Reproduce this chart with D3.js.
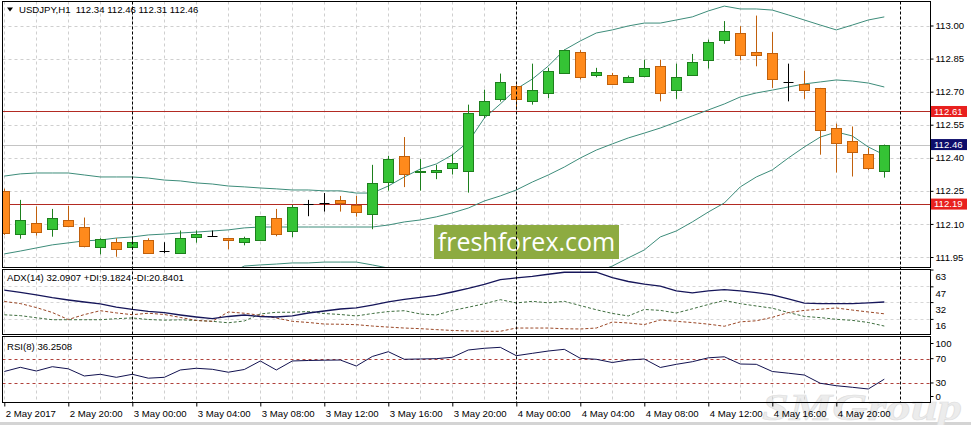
<!DOCTYPE html>
<html><head><meta charset="utf-8">
<script src="https://cdn.jsdelivr.net/npm/d3@7"></script>
<style>body{margin:0;background:#fff}svg{display:block}</style>
</head><body><svg id="c" width="971" height="425"></svg>
<script>
const times = ["2 May 16:00","2 May 17:00","2 May 18:00","2 May 19:00","2 May 20:00","2 May 21:00","2 May 22:00","2 May 23:00",
"3 May 00:00","3 May 01:00","3 May 02:00","3 May 03:00","3 May 04:00","3 May 05:00","3 May 06:00","3 May 07:00",
"3 May 08:00","3 May 09:00","3 May 10:00","3 May 11:00","3 May 12:00","3 May 13:00","3 May 14:00","3 May 15:00",
"3 May 16:00","3 May 17:00","3 May 18:00","3 May 19:00","3 May 20:00","3 May 21:00","3 May 22:00","3 May 23:00",
"4 May 00:00","4 May 01:00","4 May 02:00","4 May 03:00","4 May 04:00","4 May 05:00","4 May 06:00","4 May 07:00",
"4 May 08:00","4 May 09:00","4 May 10:00","4 May 11:00","4 May 12:00","4 May 13:00","4 May 14:00","4 May 15:00",
"4 May 16:00","4 May 17:00","4 May 18:00","4 May 19:00","4 May 20:00","4 May 21:00","4 May 22:00","4 May 23:00"];
const nextSlot = "5 May 00:00";
const open = [112.25,112.053,112.105,112.076,112.118,112.085,111.994,112.017,111.994,112.027,111.977,111.967,112.042,112.044,112.035,112.017,112.026,112.126,112.067,112.190,112.194,112.209,112.186,112.144,112.292,112.409,112.335,112.334,112.353,112.342,112.592,112.667,112.727,112.656,112.694,112.785,112.879,112.776,112.776,112.744,112.773,112.818,112.706,112.776,112.842,112.936,112.967,112.879,112.876,112.744,112.736,112.717,112.535,112.474,112.418,112.34];
const high = [112.26,112.209,112.179,112.168,112.182,112.129,112.035,112.035,112.042,112.035,112.017,112.070,112.070,112.070,112.035,112.042,112.135,112.168,112.186,112.209,112.240,112.227,112.227,112.368,112.409,112.494,112.394,112.368,112.418,112.641,112.709,112.782,112.732,112.827,112.808,112.891,112.888,112.808,112.785,112.773,112.845,112.845,112.827,112.871,112.936,113.020,112.997,113.045,112.970,112.827,112.795,112.717,112.555,112.542,112.444,112.46];
const low = [112.05,112.033,112.047,112.042,112.085,111.994,111.962,111.951,111.982,111.967,111.967,111.967,112.015,112.044,111.985,112.003,112.026,112.044,112.040,112.135,112.156,112.156,112.133,112.076,112.251,112.267,112.251,112.303,112.324,112.242,112.580,112.655,112.618,112.641,112.671,112.785,112.755,112.765,112.735,112.740,112.765,112.656,112.667,112.776,112.805,112.917,112.842,112.815,112.717,112.656,112.667,112.414,112.333,112.315,112.345,112.31];
const close = [112.06,112.118,112.065,112.127,112.092,112.001,112.030,111.985,112.017,111.967,111.977,112.035,112.053,112.044,112.026,112.035,112.135,112.053,112.176,112.190,112.194,112.194,112.156,112.285,112.394,112.327,112.342,112.344,112.376,112.603,112.658,112.744,112.667,112.709,112.795,112.888,112.765,112.788,112.735,112.767,112.808,112.694,112.767,112.835,112.926,112.974,112.865,112.868,112.758,112.744,112.709,112.527,112.467,112.426,112.353,112.46];
const bbUpper = [112.317,112.327,112.331,112.331,112.331,112.322,112.313,112.313,112.313,112.308,112.299,112.295,112.286,112.281,112.272,112.268,112.263,112.259,112.254,112.254,112.250,112.250,112.240,112.240,112.272,112.313,112.349,112.372,112.413,112.472,112.580,112.644,112.712,112.757,112.816,112.889,112.930,112.966,112.980,112.998,113.011,113.011,113.025,113.039,113.066,113.088,113.075,113.075,113.070,113.048,113.025,113.002,112.980,113.002,113.025,113.039];
const bbMiddle = [111.964,111.977,111.991,112.005,112.014,112.023,112.027,112.036,112.041,112.050,112.054,112.059,112.063,112.068,112.073,112.082,112.086,112.086,112.086,112.086,112.086,112.086,112.086,112.086,112.095,112.109,112.118,112.132,112.150,112.172,112.204,112.227,112.254,112.290,112.322,112.358,112.399,112.435,112.463,112.490,112.512,112.535,112.562,112.590,112.617,112.644,112.676,112.694,112.707,112.721,112.735,112.744,112.753,112.748,112.739,112.721];
const bbLower = [111.610,111.628,111.651,111.678,111.696,111.723,111.741,111.760,111.769,111.791,111.810,111.823,111.841,111.855,111.873,111.909,111.914,111.918,111.923,111.923,111.927,111.927,111.927,111.914,111.900,111.891,111.882,111.873,111.864,111.855,111.837,111.819,111.800,111.809,111.823,111.832,111.855,111.882,111.909,111.946,111.982,112.041,112.068,112.109,112.154,112.195,112.268,112.313,112.345,112.399,112.449,112.494,112.517,112.499,112.449,112.413];
const adx = [43.3,41.3,38.8,36.2,34.0,32.1,30.2,27.3,25.0,23.2,21.9,19.7,17.8,16.2,18.3,19.7,18.3,17.8,18.8,21.6,23.5,25.4,26.4,29.2,32.1,34.5,36.4,38.3,41.6,45.0,48.8,53.3,55.0,56.4,58.5,60.4,60.4,60.4,55.2,51.6,49.2,47.3,42.6,40.7,42.6,43.8,42.6,41.1,38.8,35.0,31.1,30.6,30.5,30.5,31.3,32.09];
const plusDI = [19.9,19.1,17.1,15.2,15.2,15.2,15.2,16.2,16.9,15.4,14.8,15.1,14.5,13.7,12.3,14.0,20.7,22.3,22.3,23.0,21.1,20.2,18.8,21.1,23.0,23.8,20.7,19.7,24.0,27.1,30.4,34.3,31.2,32.7,31.3,32.7,28.7,24.7,21.2,18.8,25.0,24.1,21.6,25.6,29.7,33.6,30.5,28.3,26.2,22.1,18.4,17.2,15.6,14.6,12.6,9.18];
const minusDI = [32.6,30.6,26.8,22.1,15.4,20.1,23.8,21.7,20.0,21.4,20.2,17.4,14.5,13.7,22.6,21.4,19.4,16.8,13.7,12.6,11.1,10.9,10.5,9.2,8.2,7.3,6.7,5.8,5.0,4.5,4.2,4.2,7.3,7.3,7.3,6.6,6.4,7.3,13.0,12.1,10.6,15.0,13.7,12.5,11.0,9.0,13.2,14.2,17.5,22.0,24.1,25.2,26.4,24.4,22.6,20.84];
const rsi = [48.9,55.8,49.7,56.8,53.3,41.5,44.3,39.3,44.3,37.9,39.3,51.4,54.2,52.5,47.7,52.2,66.2,51.4,66.2,67.0,67.5,67.8,57.9,73.6,81.5,69.0,69.5,70.0,72.3,84.3,87.1,88.7,74.9,78.8,82.6,85.4,70.6,69.0,63.7,67.8,69.5,55.5,60.7,65.0,71.4,73.1,61.2,60.7,48.9,46.1,43.1,29.5,25.5,22.9,20.1,36.25];
const priceTicks = [113.00,112.85,112.70,112.55,112.40,112.25,112.10,111.95];
const levelLines = [112.61,112.19];
const lastPrice = 112.46;
const adxTicks = [63,47,32,16];
const rsiTicks = [100,70,30,0];
const rsiLevels = [70,30];
const tickTimes = ["2 May 16:00","2 May 20:00","3 May 00:00","3 May 04:00","3 May 08:00","3 May 12:00","3 May 16:00","3 May 20:00","4 May 00:00","4 May 04:00","4 May 08:00","4 May 12:00","4 May 16:00","4 May 20:00"];
const tickLabels = ["2 May 2017","2 May 20:00","3 May 00:00","3 May 04:00","3 May 08:00","3 May 12:00","3 May 16:00","3 May 20:00","4 May 00:00","4 May 04:00","4 May 08:00","4 May 12:00","4 May 16:00","4 May 20:00"];
const daySeparators = ["3 May 00:00","4 May 00:00","5 May 00:00"];
const titleMain = "USDJPY,H1  112.34 112.46 112.31 112.46";
const titleADX = "ADX(14) 32.0907 +DI:9.1824 -DI:20.8401";
const titleRSI = "RSI(8) 36.2508";

const FONT = "'Liberation Sans', Arial, sans-serif";
const FS = 9.6;
const svg = d3.select('#c');
const L = 2.5, R = 930.5;
const P = {main:[1.5,267.5], adx:[269.5,334.5], rsi:[336.5,402.5]};

const x = d3.scalePoint().domain(times.concat([nextSlot])).range([4.3, 900.3]);
const y = d3.scaleLinear().domain([111.95,113.00]).range([257,25.5]);
const yA = d3.scaleLinear().domain([0,63.5]).range([335.7,269]);
const yR = d3.scaleLinear().domain([0,100]).range([401.2,340.45]);

svg.append('rect').attr('width',971).attr('height',425).attr('fill','#fff');
// bottom gray edge
svg.append('rect').attr('x',0).attr('y',422).attr('width',971).attr('height',3).attr('fill','#d4d4d4');

// watermark SMGroup
svg.append('text').attr('x',762).attr('y',420).text('SMGroup')
  .attr('font-family',"'Liberation Serif', serif").attr('font-style','italic').attr('font-weight','bold')
  .attr('font-size',38).attr('fill','#ececec').attr('stroke','#dedede').attr('stroke-width',0.6)
  .attr('textLength',200).attr('lengthAdjust','spacingAndGlyphs');

const defs = svg.append('defs');
Object.entries(P).forEach(([k,[t,b]])=>{
  defs.append('clipPath').attr('id','clip-'+k).append('rect').attr('x',L).attr('y',t).attr('width',R-L).attr('height',b-t);
});

// vertical grid
const gridTimes = times.filter((t,i)=>i%2===0);
Object.entries(P).forEach(([k,[t,b]])=>{
  svg.append('g').selectAll('line').data(gridTimes).join('line')
    .attr('x1',d=>Math.round(x(d))+0.5).attr('x2',d=>Math.round(x(d))+0.5)
    .attr('y1',t).attr('y2',b).attr('stroke','#cfcfcf').attr('stroke-dasharray','3,3');
});
// horizontal grid main
svg.append('g').selectAll('line').data(priceTicks).join('line')
  .attr('x1',L).attr('x2',R).attr('y1',d=>Math.round(y(d))+0.5).attr('y2',d=>Math.round(y(d))+0.5)
  .attr('stroke','#cfcfcf').attr('stroke-dasharray','3,3');
svg.append('g').selectAll('line').data(adxTicks.slice(1)).join('line')
  .attr('x1',L).attr('x2',R).attr('y1',d=>Math.round(yA(d))+0.5).attr('y2',d=>Math.round(yA(d))+0.5)
  .attr('stroke','#d6d6d6').attr('stroke-dasharray','3,3');

// last price line
svg.append('line').attr('x1',L).attr('x2',R+4).attr('y1',Math.round(y(lastPrice))+0.5).attr('y2',Math.round(y(lastPrice))+0.5)
  .attr('stroke','#c4c4c4');
// level lines
svg.append('g').selectAll('line').data(levelLines).join('line')
  .attr('x1',L).attr('x2',R).attr('y1',d=>Math.round(y(d))+0.5).attr('y2',d=>Math.round(y(d))+0.5)
  .attr('stroke','#b22a22').attr('stroke-width',1.2);

// freshforex watermark
svg.append('rect').attr('x',434).attr('y',225).attr('width',185).attr('height',34).attr('fill','#8dab41');
svg.append('text').attr('x',526.5).attr('y',251).attr('text-anchor','middle').text('freshforex.com')
  .attr('font-family',"'Open Sans', sans-serif").attr('font-size',25).attr('fill','#fff');

// Bollinger
const gMain = svg.append('g').attr('clip-path','url(#clip-main)');
[bbUpper,bbMiddle,bbLower].forEach(arr=>{
  gMain.append('path').datum(arr)
    .attr('d',d3.line().x((d,i)=>x(times[i])).y(d=>y(d)))
    .attr('fill','none').attr('stroke','#3d8c7a').attr('stroke-width',1);
});

// candles
times.forEach((t,i)=>{
  const cx = Math.round(x(t))+0.5;
  const o=open[i],c=close[i],h=high[i],l=low[i];
  const doji = Math.abs(o-c)<0.0005, up = c>o;
  const stroke = doji ? '#000' : (up ? '#1d7f1d' : '#c0600c');
  const fill = up ? '#35c335' : '#ff8a1c';
  gMain.append('line').attr('x1',cx).attr('x2',cx).attr('y1',y(h)).attr('y2',y(l)).attr('stroke',stroke);
  if(doji){
    gMain.append('line').attr('x1',cx-5).attr('x2',cx+5).attr('y1',Math.round(y(o))+0.5).attr('y2',Math.round(y(o))+0.5).attr('stroke','#000');
  } else {
    const yt = Math.round(y(Math.max(o,c)))+0.5, yb = Math.round(y(Math.min(o,c)))+0.5;
    gMain.append('rect').attr('x',cx-5).attr('y',yt).attr('width',10).attr('height',Math.max(1,yb-yt))
      .attr('fill',fill).attr('stroke',stroke);
  }
});

// ADX panel
const gA = svg.append('g').attr('clip-path','url(#clip-adx)');
const lineA = d3.line().x((d,i)=>x(times[i])).y(d=>yA(d));
gA.append('path').datum(plusDI).attr('d',lineA).attr('fill','none').attr('stroke','#3f6e3f').attr('stroke-dasharray','3,2');
gA.append('path').datum(minusDI).attr('d',lineA).attr('fill','none').attr('stroke','#9a4726').attr('stroke-dasharray','3,2');
gA.append('path').datum(adx).attr('d',lineA).attr('fill','none').attr('stroke','#16165a').attr('stroke-width',1.3);

// RSI panel
const gR = svg.append('g').attr('clip-path','url(#clip-rsi)');
gR.selectAll('line.lv').data(rsiLevels).join('line')
  .attr('x1',L).attr('x2',R).attr('y1',d=>Math.round(yR(d))+0.5).attr('y2',d=>Math.round(yR(d))+0.5)
  .attr('stroke','#b0403a').attr('stroke-dasharray','3,3');
gR.append('path').datum(rsi).attr('d',d3.line().x((d,i)=>x(times[i])).y(d=>yR(d)))
  .attr('fill','none').attr('stroke','#121250').attr('stroke-width',1);

// day separators
svg.append('g').selectAll('line').data(daySeparators).join('line')
  .attr('x1',d=>Math.round(x(d))+0.5).attr('x2',d=>Math.round(x(d))+0.5)
  .attr('y1',P.main[0]).attr('y2',P.rsi[1]).attr('stroke','#000').attr('stroke-dasharray','3,2');

// panel borders
Object.values(P).forEach(([t,b])=>{
  svg.append('rect').attr('x',L).attr('y',t).attr('width',R-L).attr('height',b-t)
    .attr('fill','none').attr('stroke','#000');
});

// titles
svg.append('path').attr('d','M7,7.5 L13,7.5 L10,11.5 Z').attr('fill','#000');
const txt = (xx,yy,s)=>svg.append('text').attr('x',xx).attr('y',yy).attr('dy','0.35em').text(s)
  .attr('font-family',FONT).attr('font-size',FS).attr('fill','#000');
txt(19,10,titleMain).attr('xml:space','preserve').style('white-space','pre');
txt(7,278,titleADX);
txt(7,347,titleRSI);

// right price axis
const axP = svg.append('g').attr('transform',`translate(${R},0)`)
  .call(d3.axisRight(y).tickValues(priceTicks).tickSize(3).tickPadding(2).tickFormat(d3.format('.2f')));
axP.select('.domain').remove();
axP.selectAll('text').attr('font-family',FONT).attr('font-size',FS).attr('fill','#000');
// label boxes
const boxes = [{v:levelLines[0],c:'#e8201e'},{v:lastPrice,c:'#0d0d6b'},{v:levelLines[1],c:'#e8201e'}];
boxes.forEach(b=>{
  const yy = y(b.v);
  svg.append('rect').attr('x',R+0.5).attr('y',yy-5.5).attr('width',36).attr('height',11).attr('fill',b.c);
  svg.append('text').attr('x',R+3.5).attr('y',yy).attr('dy','0.35em').text(d3.format('.2f')(b.v))
    .attr('font-family',FONT).attr('font-size',FS).attr('fill','#fff');
});

// ADX axis labels
const axA = svg.append('g').attr('transform',`translate(${R},0)`)
  .call(d3.axisRight(yA).tickValues(adxTicks).tickSize(3).tickPadding(2));
axA.select('.domain').remove();
axA.selectAll('text').attr('font-family',FONT).attr('font-size',FS).attr('fill','#000').attr('y',7);

// RSI axis labels
const axR = svg.append('g').attr('transform',`translate(${R},0)`)
  .call(d3.axisRight(yR).tickValues(rsiTicks).tickSize(3).tickPadding(2));
axR.select('.domain').remove();
axR.selectAll('.tick').attr('transform',d=>`translate(0,${Math.max(P.rsi[0]+7, Math.min(P.rsi[1]-6, yR(d)))})`);
axR.selectAll('text').attr('font-family',FONT).attr('font-size',FS).attr('fill','#000');

// time axis
const axT = svg.append('g').attr('transform',`translate(0,${P.rsi[1]})`)
  .call(d3.axisBottom(x).tickValues(tickTimes).tickSize(4).tickPadding(4).tickFormat((d,i)=>tickLabels[i]));
axT.select('.domain').remove();
axT.selectAll('text').attr('font-family',FONT).attr('font-size',FS).attr('fill','#000').attr('text-anchor','start').attr('x',1);
axT.selectAll('line').attr('stroke','#000');
</script></body></html>
